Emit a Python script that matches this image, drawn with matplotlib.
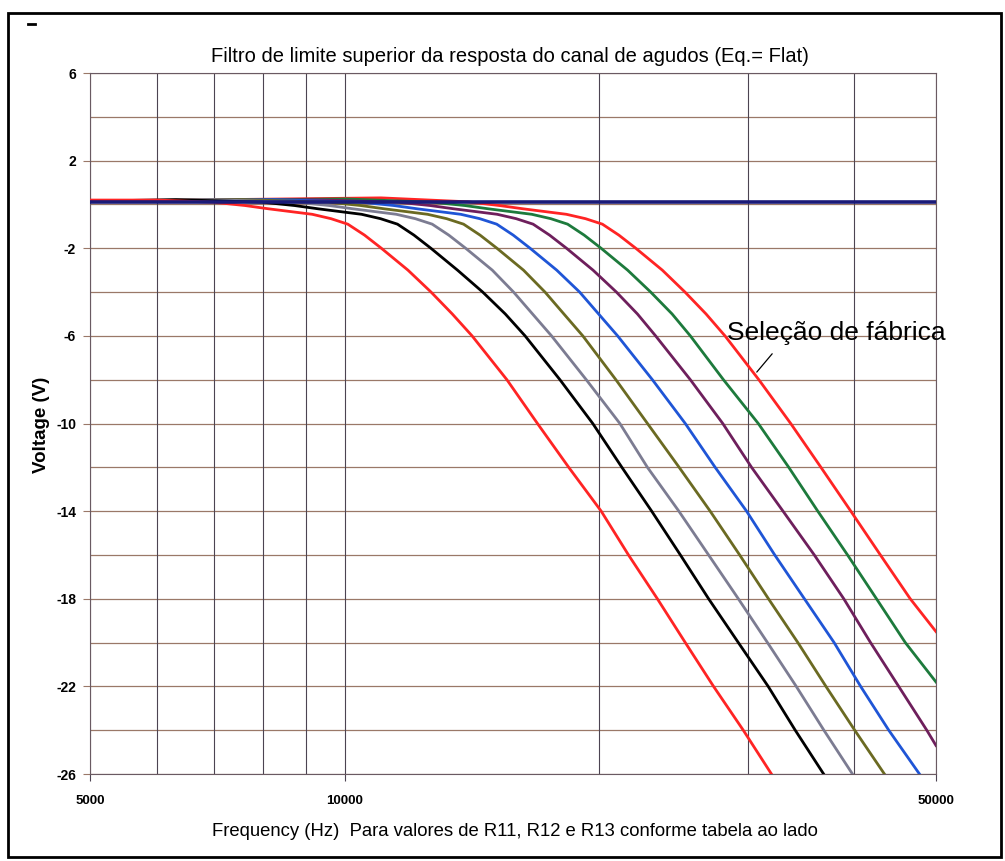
import matplotlib.pyplot as plt
from matplotlib.lines import Line2D
from matplotlib.patches import Rectangle

plt.rcParams["font.family"] = ["Liberation Sans", "DejaVu Sans"]

title = "Filtro de limite superior da resposta do canal de agudos (Eq.= Flat)"
xlabel = "Frequency (Hz)  Para valores de R11, R12 e R13 conforme tabela ao lado"
ylabel = "Voltage (V)"
note = "Seleção de fábrica"

xticks = [5000, 10000, 50000]
yticks = [6, 2, -2, -6, -10, -14, -18, -22, -26]
xgrid = [5000, 6000, 7000, 8000, 9000, 10000, 20000, 30000, 40000, 50000]
ygrid = [6, 4, 2, 0, -2, -4, -6, -8, -10, -12, -14, -16, -18, -20, -22, -24, -26]

# flat response
flat_f = [5000, 50000]
flat_v = [0.1, 0.1]

# roll-off curves (Hz, V)
red1_f = [5000, 6000, 7000, 7625, 8130, 9155, 9635, 10085, 10555, 11050, 11880, 12650, 13403,
          14145, 15550, 16900, 18400, 20100, 21650, 23420, 25270, 27290, 29590, 31950]
red1_v = [0.2, 0.2, 0.1, -0.05, -0.2, -0.45, -0.65, -0.9, -1.4, -2, -3, -4, -5,
          -6, -8, -10, -12, -14, -16, -18, -20, -22, -24, -26]

black_f = [5000, 6320, 8005, 8725, 9305, 10470, 11025, 11545, 12075, 12645, 13595, 14560, 15483,
           16340, 17965, 19645, 21265, 23060, 24935, 26925, 29195, 31665, 34085, 36825]
black_v = [0.15, 0.22, 0.1, -0.05, -0.2, -0.45, -0.65, -0.9, -1.4, -2, -3, -4, -5,
           -6, -8, -10, -12, -14, -16, -18, -20, -22, -24, -26]

gray_f = [5000, 6950, 8800, 9590, 10230, 11510, 12120, 12690, 13275, 13900, 14945, 15835, 16675,
          17560, 19300, 21150, 22795, 24830, 26925, 29195, 31605, 34180, 36850, 39830]
gray_v = [0.15, 0.22, 0.1, -0.05, -0.2, -0.45, -0.65, -0.9, -1.4, -2, -3, -4, -5,
          -6, -8, -10, -12, -14, -16, -18, -20, -22, -24, -26]

olive_f = [5000, 7570, 9580, 10445, 11140, 12530, 13200, 13820, 14455, 15135, 16270, 17250, 18160,
           19120, 20920, 22800, 24850, 27040, 29300, 31690, 34330, 37055, 40075, 43450]
olive_v = [0.15, 0.22, 0.1, -0.05, -0.2, -0.45, -0.65, -0.9, -1.4, -2, -3, -4, -5,
           -6, -8, -10, -12, -14, -16, -18, -20, -22, -24, -26]

blue_f = [5000, 8280, 10485, 11430, 12190, 13715, 14445, 15125, 15820, 16565, 17810, 18955, 19960,
          21020, 23105, 25270, 27410, 29855, 32235, 34945, 37890, 40725, 43965, 47800]
blue_v = [0.15, 0.22, 0.1, -0.05, -0.2, -0.45, -0.65, -0.9, -1.4, -2, -3, -4, -5,
          -6, -8, -10, -12, -14, -16, -18, -20, -22, -24, -26]

purple_f = [5000, 9145, 11580, 12620, 13460, 15145, 15950, 16700, 17465, 18290, 19660, 20950, 22185,
            23310, 25620, 27985, 30265, 32970, 35900, 38900, 41840, 45170, 48760, 50000]
purple_v = [0.15, 0.22, 0.1, -0.05, -0.2, -0.45, -0.65, -0.9, -1.4, -2, -3, -4, -5,
            -6, -8, -10, -12, -14, -16, -18, -20, -22, -24, -24.7]

green_f = [5000, 10050, 12720, 13865, 14790, 16640, 17525, 18345, 19190, 20095, 21600, 23000, 24380,
           25620, 28035, 30825, 33490, 36240, 39300, 42520, 45990, 50000]
green_v = [0.15, 0.25, 0.1, -0.05, -0.2, -0.45, -0.65, -0.9, -1.4, -2, -3, -4, -5,
           -6, -8, -10, -12, -14, -16, -18, -20, -21.8]

red2_f = [5000, 11040, 13980, 15240, 16255, 18285, 19260, 20165, 21090, 22085, 23740, 25250, 26740,
          28155, 30870, 33670, 36555, 39650, 42975, 46610, 50000]
red2_v = [0.15, 0.3, 0.12, -0.05, -0.2, -0.45, -0.65, -0.9, -1.4, -2, -3, -4, -5,
          -6, -8, -10, -12, -14, -16, -18, -19.5]

curves = [
    (red2_f, red2_v, "#ff2424"),
    (green_f, green_v, "#1d7a3c"),
    (purple_f, purple_v, "#6e1f5c"),
    (blue_f, blue_v, "#1f55d6"),
    (olive_f, olive_v, "#6b6a22"),
    (gray_f, gray_v, "#7c7c92"),
    (black_f, black_v, "#000000"),
    (red1_f, red1_v, "#ff2424"),
]

fig = plt.figure(figsize=(10.05, 8.61), dpi=100)
ax = fig.add_axes([90 / 1005, 1 - 774 / 861, 846 / 1005, 701 / 861])
ax.set_xscale("log")
ax.set_xlim(5000, 50000)
ax.set_ylim(-26, 6)

for y in ygrid:
    ax.axhline(y, color="#9a7868", lw=0.9, zorder=1)
for x in xgrid:
    ax.axvline(x, color="#4c4452", lw=0.8, zorder=1)

for f, v, c in curves:
    ax.plot(f, v, color=c, lw=2.0, zorder=3, solid_joinstyle="round")
ax.plot(flat_f, flat_v, color="#1a1a78", lw=2.6, zorder=4)

for side in ax.spines.values():
    side.set_color("#6a5a62")
    side.set_linewidth(0.8)

ax.set_xticks(xticks)
ax.set_xticklabels([str(t) for t in xticks])
ax.minorticks_off()
ax.set_yticks(yticks)
ax.set_yticklabels([str(t) for t in yticks])
ax.tick_params(axis="x", direction="out", length=5, width=0.8, color="#4c4452",
               pad=10, labelsize=9.5)
ax.tick_params(axis="y", direction="out", length=5, width=0.8, color="#9a7868",
               pad=5, labelsize=10)
for lab in ax.get_xticklabels() + ax.get_yticklabels():
    lab.set_fontweight("bold")

fig.text(510 / 1005, 1 - 57 / 861, title, ha="center", va="center", fontsize=14.5)
fig.text(515 / 1005, 1 - 832 / 861, xlabel, ha="center", va="center", fontsize=13.3)
fig.text(42 / 1005, 1 - 425 / 861, ylabel, ha="center", va="center", fontsize=13.5,
         fontweight="bold", rotation=90)

ax.text(28310, -6.2, note, ha="left", va="baseline", fontsize=19, zorder=5)
ax.annotate("", xy=(30550, -7.75), xytext=(32170, -6.72),
            arrowprops=dict(arrowstyle="-", color="black", lw=0.9))

fig.add_artist(Rectangle((8 / 1005, 1 - 857 / 861), 993 / 1005, 844 / 861,
                         transform=fig.transFigure, fill=False, ec="black", lw=2))
fig.add_artist(Line2D([28 / 1005, 35 / 1005], [1 - 23.5 / 861, 1 - 23.5 / 861],
                      transform=fig.transFigure, color="black", lw=2))

fig.savefig("out.png", dpi=100)
